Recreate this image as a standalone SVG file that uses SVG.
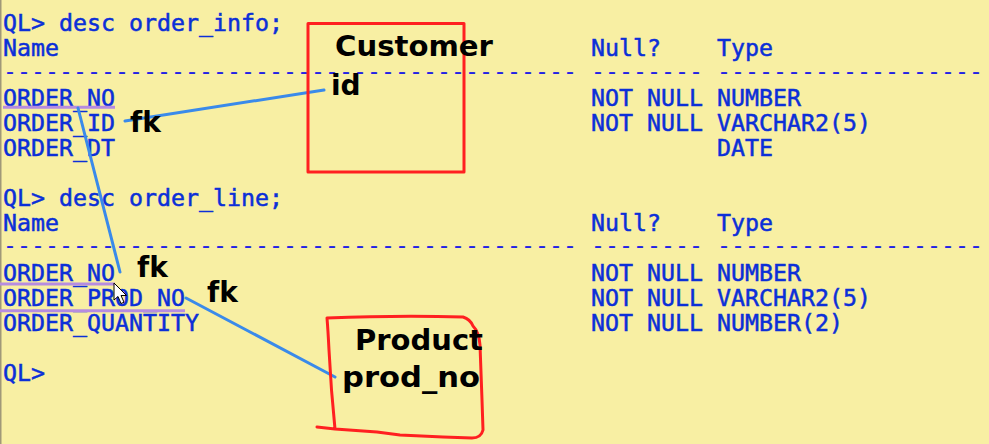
<svg xmlns="http://www.w3.org/2000/svg" width="989" height="444" viewBox="0 0 989 444">
<style>
.t{font-family:"DejaVu Sans Mono","Liberation Mono",monospace;font-size:23.25px;fill:#0C2FD8;stroke:#0C2FD8;stroke-width:0.5}
.d{font-family:"DejaVu Sans Mono","Liberation Mono",monospace;font-size:23.25px;fill:#2222E6}
.lb{font-family:"DejaVu Sans","Liberation Sans",sans-serif;font-weight:bold;font-size:28px;fill:#000}
.ul{stroke:#B68CE0;stroke-width:3;fill:none}
.cn{stroke:#3A8AEA;stroke-width:3;fill:none;stroke-linecap:round}
.box{stroke:#FF2020;stroke-width:3;fill:none;stroke-linejoin:round;stroke-linecap:round}
</style>
<rect x="0" y="0" width="989" height="444" fill="#F8EFA3"/>
<line x1="0.75" y1="0" x2="0.75" y2="444" stroke="#A09878" stroke-width="1.5"/>

<g id="order_info">
<text class="t" x="3" y="31">QL&gt; desc order_info;</text>
<text class="t" x="3" y="56">Name</text>
<text class="t" x="591" y="56">Null?</text>
<text class="t" x="717" y="56">Type</text>
<text class="d" x="3" y="78.6">-----------------------------------------</text>
<text class="d" x="591" y="78.6">--------</text>
<text class="d" x="717" y="78.6">-------------------</text>
<text class="t" x="3" y="106">ORDER_NO</text>
<text class="t" x="591" y="106">NOT NULL</text>
<text class="t" x="717" y="106">NUMBER</text>
<text class="t" x="3" y="131">ORDER_ID</text>
<text class="t" x="591" y="131">NOT NULL</text>
<text class="t" x="717" y="131">VARCHAR2(5)</text>
<text class="t" x="3" y="156">ORDER_DT</text>
<text class="t" x="717" y="156">DATE</text>
</g>

<g id="order_line">
<text class="t" x="3" y="206">QL&gt; desc order_line;</text>
<text class="t" x="3" y="231">Name</text>
<text class="t" x="591" y="231">Null?</text>
<text class="t" x="717" y="231">Type</text>
<text class="d" x="3" y="253.2">-----------------------------------------</text>
<text class="d" x="591" y="253.2">--------</text>
<text class="d" x="717" y="253.2">-------------------</text>
<text class="t" x="3" y="281">ORDER_NO</text>
<text class="t" x="591" y="281">NOT NULL</text>
<text class="t" x="717" y="281">NUMBER</text>
<text class="t" x="3" y="306">ORDER_PROD_NO</text>
<text class="t" x="591" y="306">NOT NULL</text>
<text class="t" x="717" y="306">VARCHAR2(5)</text>
<text class="t" x="3" y="331">ORDER_QUANTITY</text>
<text class="t" x="591" y="331">NOT NULL</text>
<text class="t" x="717" y="331">NUMBER(2)</text>
<text class="t" x="3" y="381">QL&gt;</text>
</g>

<g id="highlights">
<line class="ul" x1="3" y1="107.3" x2="115" y2="107.3"/>
<line class="ul" x1="0" y1="284" x2="115" y2="284"/>
<line class="ul" x1="0" y1="310.7" x2="185" y2="310.7"/>
</g>

<g id="connectors">
<line class="cn" x1="125" y1="121" x2="324" y2="90"/>
<line class="cn" x1="78" y1="108" x2="120" y2="272"/>
<line class="cn" x1="186" y1="298" x2="335" y2="377"/>
</g>

<g id="customer">
<rect class="box" x="308" y="23.5" width="156" height="148.5"/>
<text class="lb" x="335" y="56" textLength="158" lengthAdjust="spacingAndGlyphs">Customer</text>
<text class="lb" x="331" y="95">id</text>
</g>

<g id="product">
<path class="box" d="M317,427 Q326,428 335,429 Q331,390 329,350 Q328,330 327,318 Q400,315 463,317 Q470,319 473,326 Q479,332 480,345 L482,400 L483,430 Q481,438 472,438 L443,437 L400,435 L377,432 L335,429"/>
<text class="lb" x="355" y="350" textLength="128" lengthAdjust="spacingAndGlyphs">Product</text>
<text class="lb" x="342" y="387" textLength="138" lengthAdjust="spacingAndGlyphs">prod_no</text>
</g>

<g id="fk-labels">
<text class="lb" x="130" y="132">fk</text>
<text class="lb" x="137" y="277">fk</text>
<text class="lb" x="207" y="302">fk</text>
</g>

<path id="cursor" d="M114,283 L114,300 L118,296.5 L121,303.5 L124,302.2 L121,295.5 L126.5,295.5 Z" fill="#fff" stroke="#000" stroke-width="1" stroke-linejoin="round"/>
</svg>
